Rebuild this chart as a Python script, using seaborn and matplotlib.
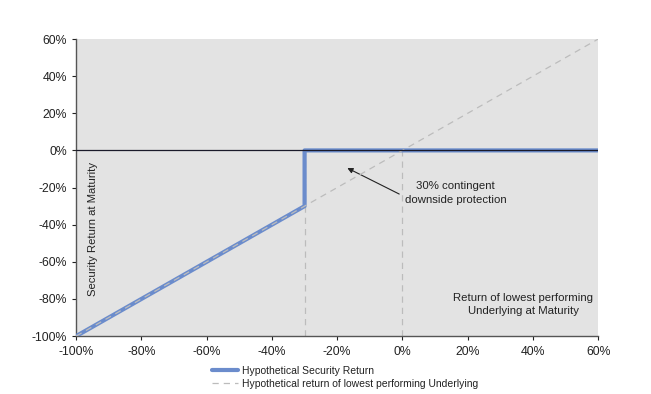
import matplotlib
matplotlib.use("Agg")
import matplotlib.pyplot as plt
import seaborn as sns
import pandas as pd
from matplotlib.ticker import FuncFormatter

# Data
security_x = [-100, -30, -30, 60]
security_y = [-100, -30, 0, 0]
underlying_x = [-100, 60]
underlying_y = [-100, 60]
barrier_lines_x = [-30, 0]
x_ticks = [-100, -80, -60, -40, -20, 0, 20, 40, 60]
y_ticks = [-100, -80, -60, -40, -20, 0, 20, 40, 60]

sns.set_theme(style="white")
plt.rcParams['font.family'] = ['Liberation Sans', 'DejaVu Sans']

fig = plt.figure(figsize=(6.51, 3.94), dpi=100)
ax = fig.add_axes([0.117, 0.147, 0.802, 0.754])
ax.set_facecolor('#e3e3e3')

sec_df = pd.DataFrame({'x': security_x, 'y': security_y})
und_df = pd.DataFrame({'x': underlying_x, 'y': underlying_y})

blue = '#6b8ccc'
grey = '#bcbcbc'

for bx in barrier_lines_x:
    ax.plot([bx, bx], [-100, 0], color=grey, lw=0.9, ls=(0, (5, 4)), zorder=2)

sns.lineplot(data=sec_df, x='x', y='y', sort=False, estimator=None, ax=ax,
             color=blue, lw=3, label='Hypothetical Security Return', zorder=3)
sns.lineplot(data=und_df, x='x', y='y', sort=False, estimator=None, ax=ax,
             color=grey, lw=0.9, ls=(0, (5, 4)),
             label='Hypothetical return of lowest performing Underlying', zorder=4)
ax.axhline(0, color='#1a1a2a', lw=0.9, zorder=5)

ax.set_xlim(-100, 60)
ax.set_ylim(-100, 60)
ax.set_xticks(x_ticks)
ax.set_yticks(y_ticks)
fmt = FuncFormatter(lambda v, p: f"{int(v)}%")
ax.xaxis.set_major_formatter(fmt)
ax.yaxis.set_major_formatter(fmt)
ax.set_xlabel('')
ax.set_ylabel('')
ax.tick_params(axis='both', labelsize=8.8, colors='#222222', length=3, width=0.8,
               direction='out', bottom=True, left=True)
ax.tick_params(axis='x', pad=4)
ax.tick_params(axis='y', pad=3.5)
for s in ['top', 'right']:
    ax.spines[s].set_visible(False)
for s in ['left', 'bottom']:
    ax.spines[s].set_color('#555555')
    ax.spines[s].set_linewidth(1.0)

ax.text(-94.8, -42.4, 'Security Return at Maturity', rotation=90, ha='center', va='center',
        fontsize=8.1, color='#222222')
ax.text(37, -82.8, 'Return of lowest performing\nUnderlying at Maturity', ha='center', va='center',
        fontsize=8.2, color='#222222', linespacing=1.4)
ax.text(16.2, -23, '30% contingent\ndownside protection',
        ha='center', va='center', fontsize=8.2, color='#222222', linespacing=1.45)
ax.annotate('', xy=(-16.9, -9.5), xytext=(-1.0, -23.5),
            arrowprops=dict(arrowstyle='-|>', color='#222222', lw=0.8, mutation_scale=8,
                            shrinkA=0, shrinkB=0))
leg = ax.legend(loc='upper left', bbox_to_anchor=(0.253, -0.085), frameon=False, fontsize=7.5,
                handlelength=2.5, handletextpad=0.3, labelspacing=0.3, borderaxespad=0)
for t in leg.get_texts():
    t.set_color('#222222')

fig.savefig('out.png', dpi=100)
